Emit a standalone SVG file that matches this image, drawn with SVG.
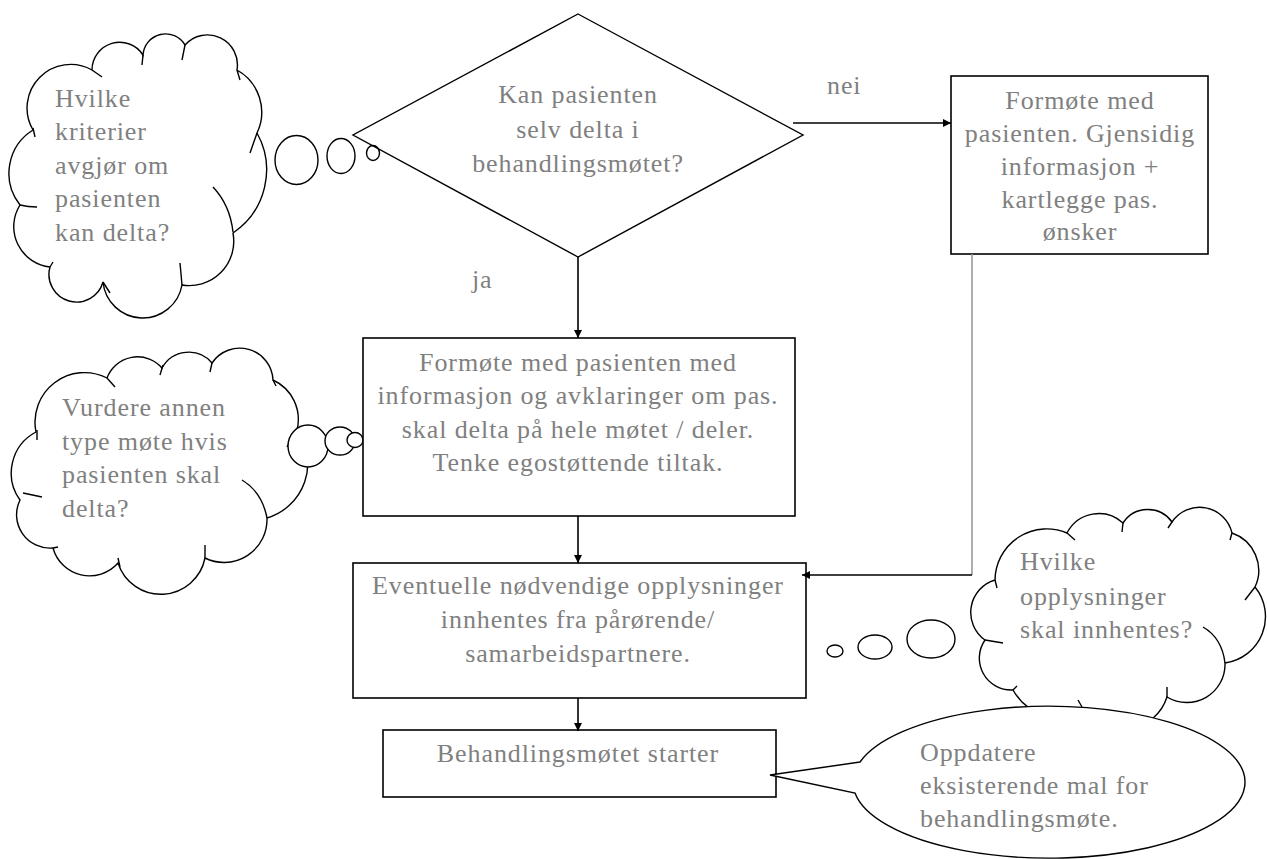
<svg xmlns="http://www.w3.org/2000/svg" width="1267" height="859" viewBox="0 0 1267 859">
  <style>
    .box { fill: #fff; stroke: #000; stroke-width: 1.6; }
    .cloud { fill: #fff; stroke: #000; stroke-width: 1.4; }
    .tick { fill: none; stroke: #000; stroke-width: 1.4; }
    .bub { fill: #fff; stroke: #000; stroke-width: 1.4; }
    .conn { fill: none; stroke: #000; stroke-width: 1.6; }
    .gray { stroke: #999; }
    .t { font-family: "Liberation Serif", "Times New Roman", serif; font-size: 26px; fill: #808080; letter-spacing: 0.9px; }
    .c { text-anchor: middle; }
  </style>
  <defs>
    <marker id="arrow" markerUnits="userSpaceOnUse" markerWidth="9" markerHeight="9" refX="8" refY="4" orient="auto">
      <path d="M0,0 L8,4 L0,8 Z" fill="#000"/>
    </marker>
  </defs>

  <rect width="1267" height="859" fill="#fff"/>

  <!-- thought cloud: criteria -->
  <g id="cloud-kriterier">
    <path class="cloud" d="M20,205 A51 51 0 0 1 33,130 A43.6 43.6 0 0 1 92,70 A27.7 27.7 0 0 1 143,55 A22.6 22.6 0 0 1 185,45 A30 30 0 0 1 237,70 A48.4 48.4 0 0 1 257,133 A76 76 0 0 1 233,233 A44.4 44.4 0 0 1 182,285 A39.9 39.9 0 0 1 103,282 A27.5 27.5 0 0 1 50,267 A40.6 40.6 0 0 1 20,205 Z"/>
    <path class="tick" d="M20,205 Q28,207 37,207 M33,128 L35,137 M92,70 L102,77 M143,55 L142,65 M185,45 L182,60 M237,70 L240,80 M257,133 L250,153 M233,232 Q230,205 213,187 M182,285 L180,263 M103,282 L110,293 M50,267 L53,262"/>
    <ellipse class="bub" cx="296.5" cy="160" rx="21.5" ry="24.5"/>
    <ellipse class="bub" cx="341" cy="156" rx="14" ry="17.5"/>
    <ellipse class="bub" cx="373" cy="153" rx="6.5" ry="7.5"/>
    <text class="t" x="55" y="107">Hvilke</text>
    <text class="t" x="55" y="140">kriterier</text>
    <text class="t" x="55" y="174">avgjør om</text>
    <text class="t" x="55" y="207">pasienten</text>
    <text class="t" x="55" y="241">kan delta?</text>
  </g>

  <!-- decision -->
  <g id="decision">
    <polygon points="578,14 803,135 578,257 353,135" fill="none" stroke="#000" stroke-width="1.4"/>
    <text class="t c" x="578" y="103">Kan pasienten</text>
    <text class="t c" x="578" y="138">selv delta i</text>
    <text class="t c" x="578" y="172">behandlingsmøtet?</text>
  </g>

  <!-- pre-meeting without patient -->
  <g id="formote-nei">
    <rect class="box" x="951" y="76" width="257" height="178"/>
    <text class="t c" x="1080" y="109">Formøte med</text>
    <text class="t c" x="1080" y="142">pasienten. Gjensidig</text>
    <text class="t c" x="1080" y="175">informasjon +</text>
    <text class="t c" x="1080" y="208">kartlegge pas.</text>
    <text class="t c" x="1080" y="240">ønsker</text>
  </g>

  <!-- thought cloud: meeting type -->
  <g id="cloud-motetype">
    <path class="cloud" d="M20,500 A46.3 46.3 0 0 1 36,432 A49.5 49.5 0 0 1 107,378 A32.5 32.5 0 0 1 162,368 A30.5 30.5 0 0 1 212,363 A33.3 33.3 0 0 1 273,380 A43.4 43.4 0 0 1 297,430 A57 57 0 0 1 267,518 A43 43 0 0 1 205,558 A45 45 0 0 1 118,563 A37.9 37.9 0 0 1 53,548 A33.4 33.4 0 0 1 20,500 Z"/>
    <path class="tick" d="M23,493 L42,497 M37,430 L37,440 M107,378 L115,387 M163,365 L160,375 M212,363 L210,372 M273,380 L276,386 M287,447 L292,437 M267,518 Q262,492 242,480 M205,545 L205,558 M118,558 L120,567 M53,548 L58,547"/>
    <ellipse class="bub" cx="308" cy="446" rx="20" ry="21"/>
    <ellipse class="bub" cx="340" cy="441" rx="15" ry="14"/>
    <ellipse class="bub" cx="355" cy="440" rx="8" ry="7.5"/>
    <text class="t" x="62" y="416">Vurdere annen</text>
    <text class="t" x="62" y="450">type møte hvis</text>
    <text class="t" x="62" y="483">pasienten skal</text>
    <text class="t" x="62" y="517">delta?</text>
  </g>

  <!-- pre-meeting with patient -->
  <g id="formote-ja">
    <rect class="box" x="363" y="338" width="432" height="178"/>
    <text class="t c" x="578" y="371">Formøte med pasienten med</text>
    <text class="t c" x="578" y="404">informasjon og avklaringer om pas.</text>
    <text class="t c" x="578" y="438">skal delta på hele møtet / deler.</text>
    <text class="t c" x="578" y="471">Tenke egostøttende tiltak.</text>
  </g>

  <!-- information gathering -->
  <g id="opplysninger">
    <rect class="box" x="353" y="563" width="453" height="135"/>
    <text class="t c" x="578" y="594">Eventuelle nødvendige opplysninger</text>
    <text class="t c" x="578" y="628">innhentes fra pårørende/</text>
    <text class="t c" x="578" y="662">samarbeidspartnere.</text>
  </g>

  <!-- thought cloud: which information -->
  <g id="cloud-opplysninger">
    <path class="cloud" d="M985,640 A33.8 33.8 0 0 1 995,580 A51.7 51.7 0 0 1 1067,533 A35.8 35.8 0 0 1 1123,523 A29.6 29.6 0 0 1 1172,522 A33.3 33.3 0 0 1 1232,533 A39.5 39.5 0 0 1 1255,587 A46.9 46.9 0 0 1 1225,663 A38.2 38.2 0 0 1 1167,697 A47.3 47.3 0 0 1 1085,712 A54.6 54.6 0 0 1 1013,690 A31.9 31.9 0 0 1 985,640 Z"/>
    <path class="tick" d="M985,640 L1003,643 M995,580 L997,588 M1067,533 L1075,540 M1123,523 L1122,532 M1172,522 L1168,528 M1232,533 L1230,540 M1255,587 L1245,600 M1225,663 Q1222,638 1203,627 M1167,697 L1167,687 M1078,700 L1082,707 M1013,690 L1017,686"/>
    <ellipse class="bub" cx="835" cy="651" rx="8" ry="6"/>
    <ellipse class="bub" cx="875" cy="647" rx="17" ry="12"/>
    <ellipse class="bub" cx="931" cy="639" rx="24" ry="19"/>
    <text class="t" x="1020" y="570">Hvilke</text>
    <text class="t" x="1020" y="605">opplysninger</text>
    <text class="t" x="1020" y="638">skal innhentes?</text>
  </g>

  <!-- meeting start -->
  <g id="start">
    <rect class="box" x="383" y="730" width="393" height="67"/>
    <text class="t c" x="578" y="762">Behandlingsmøtet starter</text>
  </g>

  <!-- speech callout: update template -->
  <g id="callout-mal">
    <path class="cloud" d="M860,762 L770,775 L855,793 A196 76 0 1 0 860,762 Z"/>
    <text class="t" x="920" y="761">Oppdatere</text>
    <text class="t" x="920" y="794">eksisterende mal for</text>
    <text class="t" x="920" y="827">behandlingsmøte.</text>
  </g>

  <!-- connectors -->
  <g id="connectors">
    <line class="conn" x1="578" y1="257" x2="578" y2="338" marker-end="url(#arrow)"/>
    <line class="conn" x1="793" y1="123" x2="951" y2="123" marker-end="url(#arrow)"/>
    <line class="conn" x1="578" y1="516" x2="578" y2="563" marker-end="url(#arrow)"/>
    <line class="conn" x1="578" y1="698" x2="578" y2="731" marker-end="url(#arrow)"/>
    <line class="conn gray" x1="972" y1="254" x2="972" y2="575"/>
    <line class="conn" x1="972" y1="575" x2="802" y2="575" marker-end="url(#arrow)"/>
    <text class="t" x="472" y="288">ja</text>
    <text class="t" x="827" y="94">nei</text>
  </g>
</svg>
